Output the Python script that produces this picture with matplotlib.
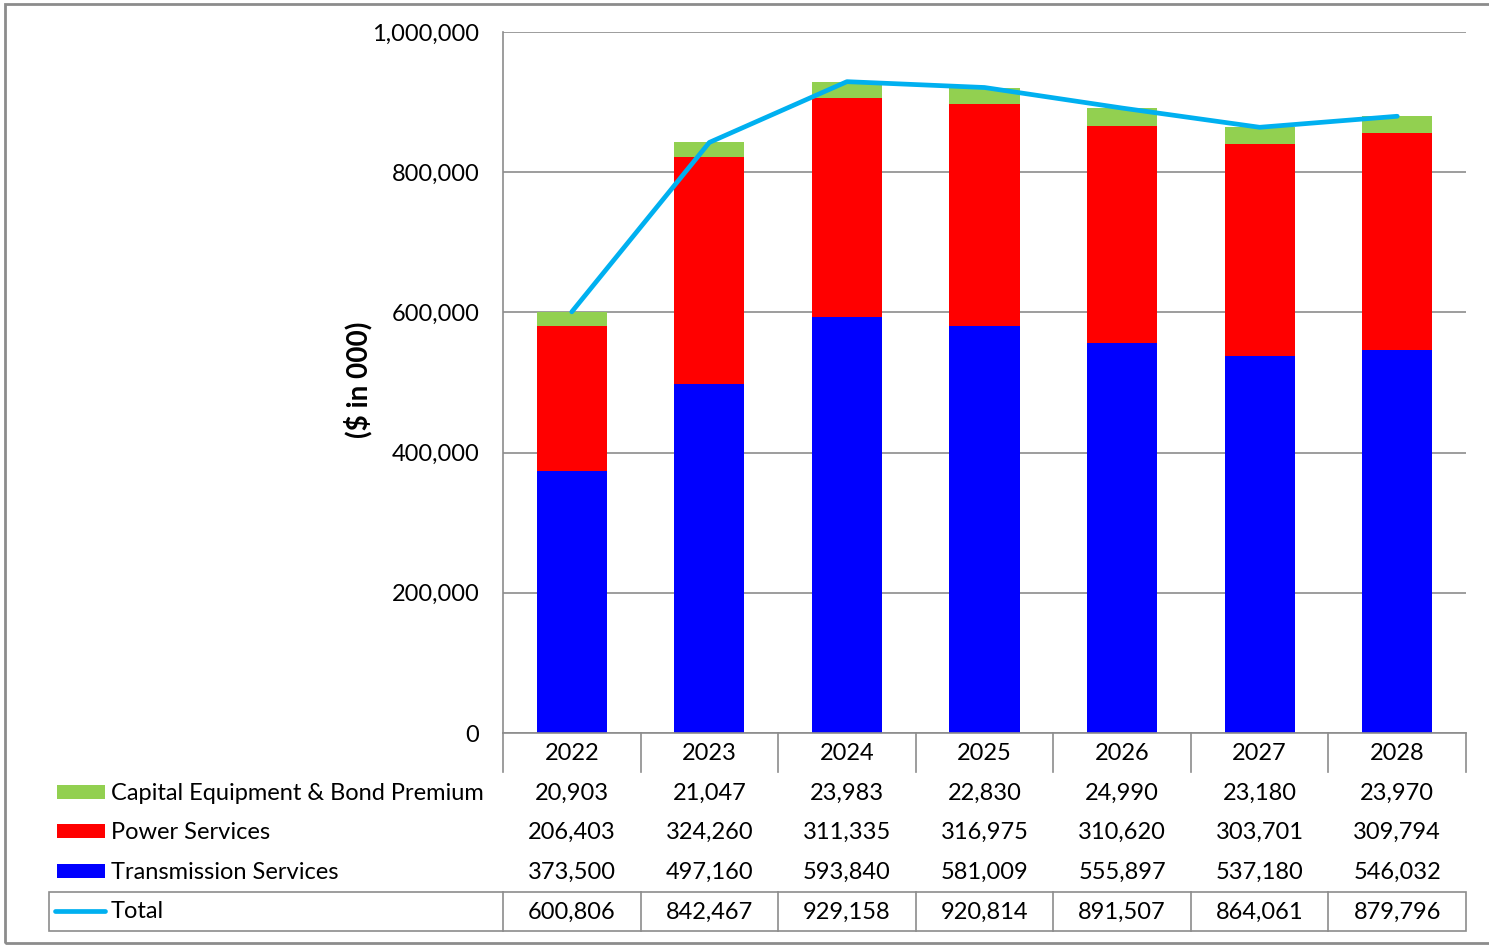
import matplotlib
matplotlib.use("Agg")
import matplotlib.pyplot as plt
from matplotlib.lines import Line2D
from matplotlib.patches import Rectangle
from matplotlib.ticker import FuncFormatter, MultipleLocator
import matplotlib.transforms as mtransforms

# ---- data ($ in 000) ----
years = ["2022", "2023", "2024", "2025", "2026", "2027", "2028"]
capital_equipment = [20903, 21047, 23983, 22830, 24990, 23180, 23970]
power_services = [206403, 324260, 311335, 316975, 310620, 303701, 309794]
transmission_services = [373500, 497160, 593840, 581009, 555897, 537180, 546032]
total = [600806, 842467, 929158, 920814, 891507, 864061, 879796]

series_names = ["Capital Equipment & Bond Premium", "Power Services", "Transmission Services"]

# ---- styling ----
C_GREEN = "#92D050"
C_RED = "#FF0000"
C_BLUE = "#0000FF"
C_LINE = "#00B0F0"
C_GRID = "#8C8C8C"
FONT = "Lato"
FS = 17
TXT_DY = 1.5  # small downward nudge for table text

W, H = 1489, 947
DPI = 100
fig = plt.figure(figsize=(W / DPI, H / DPI), dpi=DPI)
plt.rcParams["font.family"] = [FONT, "DejaVu Sans"]


def fx(px):
    return px / W


def fy(py):
    return 1 - py / H


# plot area
ax_left, ax_right, ax_top, ax_bottom = 503, 1466, 32, 733
ax = fig.add_axes([fx(ax_left), fy(ax_bottom), fx(ax_right - ax_left), (ax_bottom - ax_top) / H])

x = list(range(len(years)))
bw = 0.51
ax.bar(x, transmission_services, width=bw, color=C_BLUE, zorder=2)
ax.bar(x, power_services, width=bw, bottom=transmission_services, color=C_RED, zorder=2)
stack2 = [a + b for a, b in zip(transmission_services, power_services)]
ax.bar(x, capital_equipment, width=bw, bottom=stack2, color=C_GREEN, zorder=2)
ax.plot(x, total, color=C_LINE, lw=3.4, zorder=3, solid_capstyle="round", solid_joinstyle="round")

ax.set_xlim(-0.5, len(years) - 0.5)
ax.set_ylim(0, 1_000_000)
ax.yaxis.set_major_locator(MultipleLocator(200_000))
ax.yaxis.set_major_formatter(FuncFormatter(lambda v, p: f"{int(v):,}"))
ax.grid(axis="y", color=C_GRID, lw=1.2, zorder=0)
ax.set_axisbelow(True)
ax.set_xticks([])
ax.tick_params(axis="y", length=0, pad=17, labelsize=FS)
for lab in ax.get_yticklabels():
    lab.set_fontfamily(FONT)
for s in ["top", "right"]:
    ax.spines[s].set_visible(False)
ax.spines["left"].set_color(C_GRID)
ax.spines["left"].set_linewidth(1.2)
ax.spines["bottom"].set_color(C_GRID)
ax.spines["bottom"].set_linewidth(1.2)

fig.text(fx(358), fy(380), "($ in 000)", rotation=90, ha="center", va="center",
         fontsize=20, fontweight="bold", family=FONT)

# ---- data table below the plot ----
tr = mtransforms.blended_transform_factory(ax.transData, fig.transFigure)


def vline(xd, y0, y1):
    fig.add_artist(Line2D([xd, xd], [fy(y0), fy(y1)], transform=tr, color=C_GRID, lw=1.2))


# header row with year labels
for i, yr in enumerate(years):
    fig.text(i, fy(752 + TXT_DY), yr, transform=tr, ha="center", va="center", fontsize=FS, family=FONT)
for b in [i - 0.5 for i in range(len(years) + 1)]:
    vline(b, ax_bottom, 772)

row_y = [792, 831, 871]
row_vals = [capital_equipment, power_services, transmission_services]
row_cols = [C_GREEN, C_RED, C_BLUE]
for ry, name, vals, col in zip(row_y, series_names, row_vals, row_cols):
    fig.add_artist(Rectangle((fx(57), fy(ry + 7)), fx(48), 14 / H, transform=fig.transFigure,
                             facecolor=col, edgecolor="none"))
    fig.text(fx(111), fy(ry + TXT_DY), name, ha="left", va="center", fontsize=FS, family=FONT)
    for i, v in enumerate(vals):
        fig.text(i, fy(ry + TXT_DY), f"{v:,}", transform=tr, ha="center", va="center",
                 fontsize=FS, family=FONT)

# total row (boxed)
ty0, ty1 = 892, 931
fig.add_artist(Rectangle((fx(49), fy(ty1)), fx(ax_right - 49), (ty1 - ty0) / H,
                         transform=fig.transFigure, facecolor="none", edgecolor=C_GRID, lw=1.2))
for b in [i - 0.5 for i in range(len(years))]:
    vline(b, ty0, ty1)
fig.add_artist(Line2D([fx(55), fx(105)], [fy(911), fy(911)], transform=fig.transFigure,
                      color=C_LINE, lw=3.4, solid_capstyle="round"))
fig.text(fx(111), fy(910 + TXT_DY), "Total", ha="left", va="center", fontsize=FS, family=FONT)
for i, v in enumerate(total):
    fig.text(i, fy(911 + TXT_DY), f"{v:,}", transform=tr, ha="center", va="center",
             fontsize=FS, family=FONT)

# outer chart frame
fig.add_artist(Rectangle((fx(5), fy(943)), fx(1500), (943 - 4) / H, transform=fig.transFigure,
                         facecolor="none", edgecolor="#8C8C8C", lw=2.0))

fig.savefig("out.png", dpi=DPI)
